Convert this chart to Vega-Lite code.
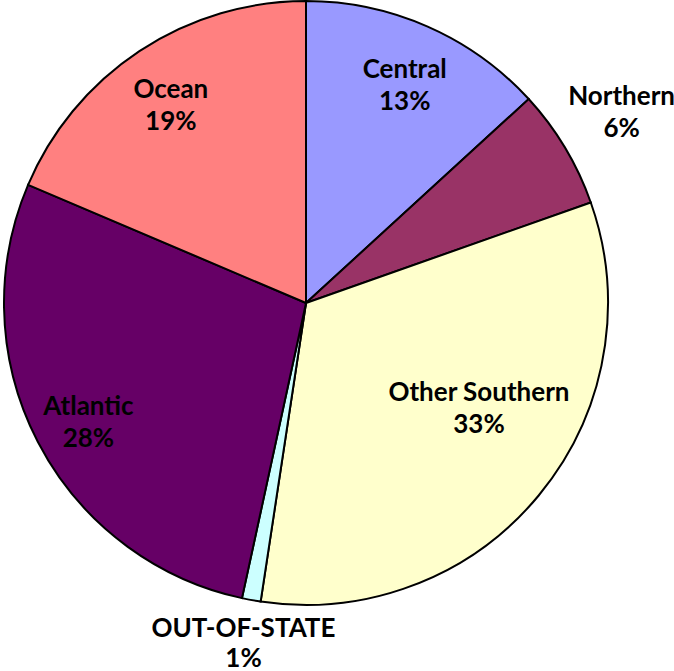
{
  "$schema": "https://vega.github.io/schema/vega-lite/v6.json",
  "width": 612,
  "height": 606,
  "autosize": {"type": "none"},
  "padding": {"left": 0, "top": 0, "right": 62, "bottom": 65},
  "background": "white",
  "config": {"view": {"stroke": null}},
  "data": {
    "values": [
      {"region": "Central", "value": 13.2},
      {"region": "Northern", "value": 6.4},
      {"region": "Other Southern", "value": 32.8},
      {"region": "OUT-OF-STATE", "value": 1.0},
      {"region": "Atlantic", "value": 28.0},
      {"region": "Ocean", "value": 18.6}
    ]
  },
  "transform": [
    {"window": [{"op": "row_number", "as": "i"}]},
    {"calculate": "datum.region + '\\n' + format(datum.value, '.0f') + '%'", "as": "label"}
  ],
  "encoding": {
    "theta": {"field": "value", "type": "quantitative", "stack": true},
    "order": {"field": "i", "type": "quantitative"}
  },
  "layer": [
    {
      "mark": {"type": "arc", "outerRadius": 302, "stroke": "black", "strokeWidth": 2},
      "encoding": {
        "color": {
          "field": "region",
          "type": "nominal",
          "scale": {
            "domain": ["Central", "Northern", "Other Southern", "OUT-OF-STATE", "Atlantic", "Ocean"],
            "range": ["#9999FF", "#993366", "#FFFFCC", "#CCFFFF", "#660066", "#FF8080"]
          },
          "legend": null
        }
      }
    },
    {
      "mark": {"type": "text", "radius": 245, "dy": -9, "font": "Lato", "fontWeight": "bold", "fontSize": 26, "lineHeight": 32, "lineBreak": "\n", "baseline": "middle", "align": "center", "color": "black"},
      "encoding": {
        "text": {"condition": {"test": "datum.region !== 'Central' && datum.region !== 'Atlantic' && datum.region !== 'Ocean'", "value": ""}, "field": "label"}
      }
    },
    {
      "mark": {"type": "text", "radius": 205, "dx": 15, "dy": -41, "font": "Lato", "fontWeight": "bold", "fontSize": 26, "lineHeight": 32, "lineBreak": "\n", "baseline": "middle", "align": "center", "color": "black"},
      "encoding": {
        "text": {"condition": {"test": "datum.region !== 'Other Southern'", "value": ""}, "field": "label"}
      }
    },
    {
      "mark": {"type": "text", "radius": 368, "dy": -17, "font": "Lato", "fontWeight": "bold", "fontSize": 26, "lineHeight": 32, "lineBreak": "\n", "baseline": "middle", "align": "center", "color": "black"},
      "encoding": {
        "text": {"condition": {"test": "datum.region !== 'Northern'", "value": ""}, "field": "label"}
      }
    },
    {
      "mark": {"type": "text", "radius": 345, "dy": -13, "font": "Lato", "fontWeight": "bold", "fontSize": 26, "lineHeight": 30, "lineBreak": "\n", "baseline": "middle", "align": "center", "color": "black"},
      "encoding": {
        "text": {"condition": {"test": "datum.region !== 'OUT-OF-STATE'", "value": ""}, "field": "label"}
      }
    }
  ]
}
